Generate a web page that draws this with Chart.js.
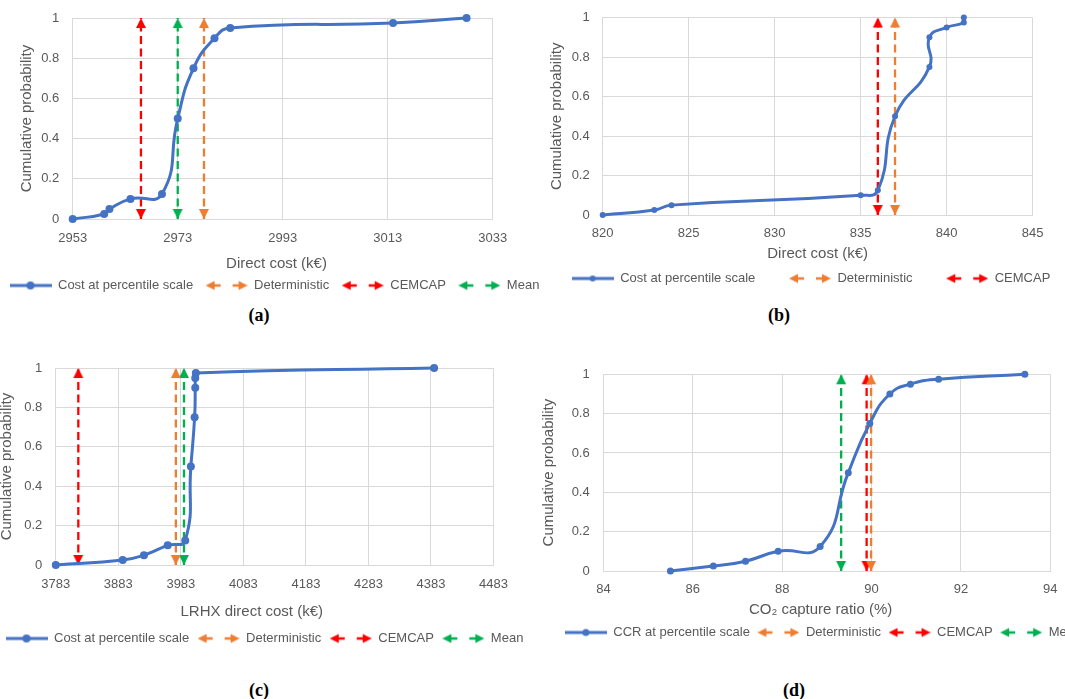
<!DOCTYPE html>
<html>
<head>
<meta charset="utf-8">
<script src="https://cdn.jsdelivr.net/npm/chart.js@4.4.0/dist/chart.umd.min.js"></script>
<style>
html,body{margin:0;padding:0;background:#ffffff;overflow:hidden;width:1065px;height:699px;position:relative;}
canvas{position:absolute;}
.cap{position:absolute;font-family:"Liberation Serif","Times New Roman",serif;font-weight:bold;font-size:18px;color:#000;transform:translate(-50%,-50%);white-space:nowrap;}
</style>
</head>
<body>
<canvas id="ca" width="560" height="302" style="left:-3px;top:0px"></canvas>
<canvas id="cb" width="542" height="295" style="left:540px;top:0px"></canvas>
<canvas id="cc" width="550" height="305" style="left:-3px;top:350px"></canvas>
<canvas id="cd" width="576" height="299" style="left:535px;top:350px"></canvas>
<div class="cap" style="left:259px;top:315px">(a)</div>
<div class="cap" style="left:779px;top:315px">(b)</div>
<div class="cap" style="left:259px;top:690px">(c)</div>
<div class="cap" style="left:794px;top:690px">(d)</div>
<script>
// ---------- data ----------
const probLevels = [0, 0.025, 0.05, 0.1, 0.125, 0.5, 0.75, 0.9, 0.95, 0.975, 1];
const arrowSpan = [0, 1];

const costA = [2953, 2959, 2960, 2964, 2970, 2973, 2976, 2980, 2983, 3014, 3028];
const refLabelsA = ["Deterministic", "CEMCAP", "Mean"];
const refValuesA = [2978, 2966, 2973];
const xTicksA = [2953, 3033, 20];

const costB = [820, 823, 824, 835, 836, 837, 839, 839, 840, 841, 841];
const refLabelsB = ["Deterministic", "CEMCAP"];
const refValuesB = [837, 836];
const xTicksB = [820, 845, 5];

const costC = [3783, 3890, 3924, 3962, 3990, 3999, 4005, 4006, 4006, 4007, 4388];
const refLabelsC = ["Deterministic", "CEMCAP", "Mean"];
const refValuesC = [3975, 3819, 3988];
const xTicksC = [3783, 4483, 100];

const ccrD = [85.5, 86.46, 87.18, 87.91, 88.85, 89.48, 89.96, 90.41, 90.87, 91.5, 93.43];
const refLabelsD = ["Deterministic", "CEMCAP", "Mean"];
const refValuesD = [89.99, 89.89, 89.32];
const xTicksD = [84, 94, 2];

const yTicks = [0, 1, 0.2];

// ---------- styling ----------
const BLUE = "#4472C4";
const REF_COLORS = {"Deterministic": "#ED7D31", "CEMCAP": "#FF0000", "Mean": "#00B050"};
const GRAY = "#595959";
const GRID = "#D9D9D9";
Chart.defaults.font.family = '"Liberation Sans", Arial, sans-serif';
Chart.defaults.color = GRAY;

function lineMarkerImg(color, r) {
  const c = document.createElement("canvas");
  c.width = 42; c.height = 14;
  const g = c.getContext("2d");
  g.strokeStyle = color; g.lineWidth = 3;
  g.beginPath(); g.moveTo(0, 7); g.lineTo(42, 7); g.stroke();
  g.fillStyle = color; g.beginPath(); g.arc(21, 7, r, 0, Math.PI * 2); g.fill();
  return c;
}
function arrowPairImg(color) {
  const c = document.createElement("canvas");
  c.width = 42; c.height = 14;
  const g = c.getContext("2d");
  g.strokeStyle = color; g.fillStyle = color; g.lineWidth = 2.5;
  g.beginPath(); g.moveTo(7, 7); g.lineTo(15, 7); g.stroke();
  g.beginPath(); g.moveTo(0, 7); g.lineTo(9, 2.5); g.lineTo(9, 11.5); g.closePath(); g.fill();
  g.beginPath(); g.moveTo(27, 7); g.lineTo(35, 7); g.stroke();
  g.beginPath(); g.moveTo(42, 7); g.lineTo(33, 2.5); g.lineTo(33, 11.5); g.closePath(); g.fill();
  return c;
}
function headImg(color) {
  const c = document.createElement("canvas");
  c.width = 12; c.height = 24;
  const g = c.getContext("2d");
  g.fillStyle = color;
  g.beginPath(); g.moveTo(6, 12); g.lineTo(11, 22); g.lineTo(1, 22); g.closePath(); g.fill();
  return c;
}

function makePanel(id, p) {
  const datasets = [{
    label: p.seriesLabel,
    data: p.xs.map((x, i) => ({x: x, y: probLevels[i]})),
    borderColor: BLUE, backgroundColor: BLUE, borderWidth: 3,
    tension: 0.5, pointRadius: p.pointRadius, pointBackgroundColor: BLUE,
    pointBorderWidth: 0, clip: false
  }];
  const legendImgs = [lineMarkerImg(BLUE, p.pointRadius)];
  p.refLabels.forEach((lab, k) => {
    const col = REF_COLORS[lab];
    datasets.push({
      label: lab,
      data: arrowSpan.map(y => ({x: p.refValues[k], y: y})),
      borderColor: col, backgroundColor: col, borderWidth: 2.3,
      borderDash: [8, 4.5], tension: 0,
      pointStyle: headImg(col), pointRotation: [180, 0], pointRadius: 6,
      clip: false
    });
    legendImgs.push(arrowPairImg(col));
  });
  const L = p.layout;
  new Chart(document.getElementById(id), {
    type: "line",
    data: {datasets: datasets},
    options: {
      responsive: false, animation: false, events: [],
      layout: {padding: {top: L.padTop, left: 0, right: 0, bottom: 0}},
      plugins: {
        tooltip: {enabled: false},
        legend: {
          display: true, position: "bottom", align: L.legendAlign, onClick: null,
          labels: {
            usePointStyle: true, pointStyleWidth: 42, padding: L.legendPad,
            font: {size: 13}, color: GRAY,
            generateLabels: chart => chart.data.datasets.map((ds, i) => ({
              text: ds.label + (L.legendExtra ? L.legendExtra[i] : ""),
              pointStyle: legendImgs[i], fillStyle: "rgba(0,0,0,0)",
              strokeStyle: "rgba(0,0,0,0)", lineWidth: 0, hidden: false,
              datasetIndex: i, fontColor: GRAY
            }))
          }
        }
      },
      scales: {
        x: {
          type: "linear", position: "bottom",
          min: p.xTicks[0], max: p.xTicks[1],
          ticks: {stepSize: p.xTicks[2], padding: L.xTickPad, maxRotation: 0, autoSkip: false,
                  font: {size: 13}, color: GRAY, callback: v => String(v)},
          grid: {color: GRID, lineWidth: 1, drawTicks: false},
          border: {display: true, color: GRID, width: 1},
          title: {display: true, text: p.xTitle + " ".repeat(L.xTitleShift), font: {size: 15}, color: GRAY,
                  padding: {top: 0, bottom: L.xTitlePadBottom}},
          afterFit: s => { s.height = L.xHeight; }
        },
        y: {
          type: "linear", position: "left",
          min: yTicks[0], max: yTicks[1],
          ticks: {stepSize: yTicks[2], padding: L.yTickPad, font: {size: 13, lineHeight: 0.7}, color: GRAY,
                  callback: v => String(Math.round(v * 10) / 10)},
          grid: {color: GRID, lineWidth: 1, drawTicks: false},
          border: {display: true, color: GRID, width: 1},
          title: {display: true, text: "Cumulative probability", font: {size: 15}, color: GRAY,
                  padding: {top: L.yTitlePadTop, bottom: 0}},
          afterFit: s => { s.width = L.yWidth; }
        },
        yr: {
          type: "linear", position: "right", display: true,
          ticks: {display: false}, grid: {display: false}, border: {display: false},
          afterFit: s => { s.width = L.rightWidth; }
        }
      }
    }
  });
}

makePanel("ca", {
  seriesLabel: "Cost at percentile scale", xs: costA,
  refLabels: refLabelsA, refValues: refValuesA, xTicks: xTicksA,
  xTitle: "Direct cost (k€)", pointRadius: 4,
  layout: {padTop: 5, yWidth: 75.7, yTitlePadTop: 21, yTickPad: 13.5, xHeight: 47.5, xTickPad: 12,
           xTitlePadBottom: -6.3, legendPad: 12.5, legendAlign: "start", rightWidth: 64.2, xTitleShift: 3}
});
makePanel("cb", {
  seriesLabel: "Cost at percentile scale", xs: costB,
  refLabels: refLabelsB, refValues: refValuesB, xTicks: xTicksB,
  xTitle: "Direct cost (k€)", pointRadius: 3,
  layout: {padTop: 7, yWidth: 62.7, yTitlePadTop: 8.3, yTickPad: 13, xHeight: 45, xTickPad: 11,
           xTitlePadBottom: -3.2, legendPad: 12, legendAlign: "center", rightWidth: 49.4,
           legendExtra: ["      ", "      ", ""], xTitleShift: 0}
});
makePanel("cc", {
  seriesLabel: "Cost at percentile scale", xs: costC,
  refLabels: refLabelsC, refValues: refValuesC, xTicks: xTicksC,
  xTitle: "LRHX direct cost (k€)", pointRadius: 4,
  layout: {padTop: 17.7, yWidth: 58.8, yTitlePadTop: 1, yTickPad: 13.5, xHeight: 58.5, xTickPad: 11.2,
           xTitlePadBottom: 2.6, legendPad: 8.5, legendAlign: "start", rightWidth: 53.5, xTitleShift: 11}
});
makePanel("cd", {
  seriesLabel: "CCR at percentile scale", xs: ccrD,
  refLabels: refLabelsD, refValues: refValuesD, xTicks: xTicksD,
  xTitle: "CO₂ capture ratio (%)", pointRadius: 3.5,
  layout: {padTop: 24.3, yWidth: 68.4, yTitlePadTop: 4.8, yTickPad: 13.7, xHeight: 47.5, xTickPad: 11,
           xTitlePadBottom: -0.7, legendPad: 7.5, legendAlign: "center", rightWidth: 60.7, xTitleShift: 3}
});
</script>
</body>
</html>
